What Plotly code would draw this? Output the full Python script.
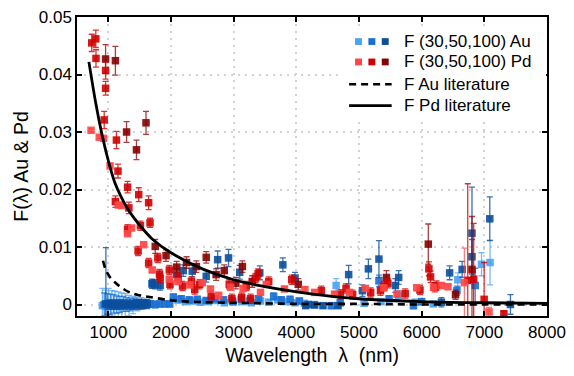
import plotly.graph_objects as go

# ---------------- data ----------------
au30_x = [905, 955, 1005, 1055, 1105, 1160, 1215, 1270, 1330, 1395, 1460, 1530, 2110, 2230, 2350, 2470, 2600, 2720, 2850, 2990, 3130, 3280, 3430, 3560, 3700, 3830, 3980, 4130, 4280, 4635, 5082, 5350, 5633, 5900, 6184, 6577, 6955, 7091]
au30_y = [-0.0002, -0.0003, -0.0002, -0.0003, -0.0002, -0.0003, -0.0002, -0.0001, -0.0002, -0.0001, 0.0001, 0.0002, 0.0008, 0.0005, 0.0006, 0.0004, 0.0005, 0.0007, 0.0003, 0.0004, 0.0005, 0.0003, 0.0006, 0.0004, 0.0008, 0.0005, 0.0003, 0.0002, 0.0000, 0.0033, 0.0002, 0.0005, 0.0016, 0.0004, 0.0001, 0.0043, 0.0070, 0.0073]
au30_e = [0.0030, 0.0028, 0.0030, 0.0027, 0.0025, 0.0025, 0.0022, 0.0020, 0.0018, 0.0015, 0.0012, 0.0010, 0.0005, 0.0004, 0.0004, 0.0004, 0.0004, 0.0004, 0.0004, 0.0004, 0.0004, 0.0004, 0.0004, 0.0004, 0.0004, 0.0004, 0.0004, 0.0004, 0.0004, 0.0012, 0.0004, 0.0004, 0.0008, 0.0004, 0.0004, 0.0012, 0.0020, 0.0039]

au50_x = [935, 985, 1035, 1085, 1135, 1185, 1240, 1295, 1350, 1410, 1470, 1530, 1600, 1670, 1700, 1745, 1820, 1900, 1980, 2037, 2163, 2290, 2420, 2560, 2700, 2840, 2980, 3120, 3260, 3400, 3638, 3760, 3900, 4050, 4556, 4700, 5318, 5480, 5869, 6000, 6562, 6855]
au50_y = [0.0000, 0.0001, 0.0000, 0.0001, 0.0000, 0.0000, 0.0001, 0.0000, 0.0000, 0.0001, 0.0000, 0.0000, 0.0001, 0.0001, 0.0036, 0.0000, 0.0001, 0.0001, 0.0001, 0.0013, 0.0010, 0.0008, 0.0009, 0.0007, 0.0010, 0.0008, 0.0006, 0.0009, 0.0007, 0.0010, 0.0014, 0.0008, 0.0009, 0.0006, -0.0002, 0.0003, 0.0041, 0.0010, -0.0002, 0.0005, 0.0024, 0.0033]
au50_e = [0.0020, 0.0018, 0.0018, 0.0016, 0.0015, 0.0014, 0.0013, 0.0012, 0.0011, 0.0010, 0.0009, 0.0008, 0.0007, 0.0006, 0.0007, 0.0006, 0.0005, 0.0005, 0.0005, 0.0005, 0.0005, 0.0005, 0.0005, 0.0005, 0.0005, 0.0005, 0.0005, 0.0005, 0.0005, 0.0005, 0.0006, 0.0005, 0.0005, 0.0005, 0.0005, 0.0005, 0.0010, 0.0005, 0.0005, 0.0005, 0.0008, 0.0030]

au100_x = [961, 1010, 1060, 1110, 1160, 1210, 1260, 1320, 1380, 1440, 1500, 1560, 1620, 1700, 1748, 1827, 2090, 2195, 2340, 2562, 2745, 2918, 3097, 3417, 3785, 3979, 4150, 4189, 4294, 4425, 4666, 4835, 5055, 5150, 5318, 5580, 5633, 6315, 6446, 6646, 6803, 6803, 7087, 7417]
au100_y = [0.0001, 0.0000, 0.0000, 0.0000, 0.0000, 0.0000, 0.0000, 0.0000, 0.0000, 0.0001, 0.0001, 0.0001, 0.0001, 0.0036, 0.0035, 0.0033, 0.0052, 0.0059, 0.0058, 0.0049, 0.0078, 0.0081, 0.0056, 0.0055, 0.0069, 0.0046, -0.0002, 0.0000, -0.0001, -0.0002, -0.0002, 0.0052, 0.0024, 0.0062, 0.0079, 0.0033, 0.0047, 0.0004, 0.0055, 0.0061, 0.0124, 0.0083, 0.0149, 0.0000]
au100_e = [0.0098, 0.0008, 0.0008, 0.0008, 0.0008, 0.0008, 0.0008, 0.0008, 0.0008, 0.0008, 0.0008, 0.0008, 0.0008, 0.0008, 0.0008, 0.0008, 0.0010, 0.0010, 0.0010, 0.0010, 0.0015, 0.0015, 0.0012, 0.0012, 0.0012, 0.0010, 0.0004, 0.0004, 0.0004, 0.0004, 0.0004, 0.0016, 0.0010, 0.0017, 0.0032, 0.0012, 0.0012, 0.0008, 0.0012, 0.0014, 0.0080, 0.0030, 0.0038, 0.0017]

pd30_x = [724, 855, 924, 1028, 1160, 1213, 1307, 1370, 1564, 1700, 1972, 2110, 2300, 2500, 2630, 2760, 2950, 3150, 3428, 3520, 3810, 4137, 4294, 4609, 4846, 5100, 5397, 5606, 5921, 6190, 6315, 6420, 6682, 7075]
pd30_y = [0.0303, 0.0291, 0.0289, 0.0241, 0.0173, 0.0172, 0.0123, 0.0133, 0.0104, 0.0060, 0.0044, 0.0040, 0.0034, 0.0038, 0.0027, 0.0016, 0.0030, 0.0028, 0.0021, 0.0035, 0.0027, 0.0026, 0.0021, 0.0018, 0.0021, 0.0028, 0.0029, 0.0018, 0.0029, 0.0030, 0.0033, 0.0031, 0.0038, -0.0013]
pd30_e = [0.0003, 0.0003, 0.0003, 0.0003, 0.0003, 0.0003, 0.0003, 0.0003, 0.0003, 0.0004, 0.0004, 0.0004, 0.0004, 0.0004, 0.0004, 0.0004, 0.0004, 0.0004, 0.0004, 0.0004, 0.0004, 0.0004, 0.0004, 0.0004, 0.0004, 0.0004, 0.0004, 0.0004, 0.0004, 0.0004, 0.0005, 0.0005, 0.0060, 0.0008]

pd50_x = [735, 800, 803, 956, 956, 934, 1129, 1154, 1113, 1307, 1485, 1643, 1328, 1512, 1665, 1307, 1475, 1643, 1790, 1816, 1827, 1973, 1984, 2115, 2184, 2326, 2378, 2457, 2641, 2929, 2971, 3129, 3202, 3271, 3350, 3391, 3559, 3926, 4399, 4704, 4793, 4898, 5186, 5343, 5397, 5460, 5737, 5973, 6115, 6142, 6210, 6236, 6735, 6830, 6997, 7312]
pd50_y = [0.0455, 0.0462, 0.0428, 0.0407, 0.0376, 0.0321, 0.0286, 0.0232, 0.0179, 0.0204, 0.0191, 0.0177, 0.0168, 0.0137, 0.0142, 0.0131, 0.0093, 0.0072, 0.0081, 0.0053, 0.0046, 0.0060, 0.0035, 0.0047, 0.0032, 0.0040, 0.0026, 0.0035, 0.0014, 0.0035, 0.0010, 0.0012, 0.0032, 0.0010, 0.0046, 0.0054, 0.0040, 0.0043, 0.0024, 0.0018, 0.0028, 0.0017, 0.0021, 0.0024, 0.0032, 0.0037, 0.0019, 0.0025, 0.0062, 0.0048, 0.0030, 0.0033, 0.0042, 0.0044, 0.0009, -0.0016]
pd50_e = [0.0015, 0.0015, 0.0015, 0.0015, 0.0012, 0.0015, 0.0015, 0.0012, 0.0010, 0.0010, 0.0012, 0.0012, 0.0010, 0.0008, 0.0008, 0.0008, 0.0008, 0.0008, 0.0008, 0.0008, 0.0008, 0.0008, 0.0008, 0.0008, 0.0008, 0.0008, 0.0008, 0.0008, 0.0008, 0.0008, 0.0008, 0.0008, 0.0008, 0.0008, 0.0008, 0.0008, 0.0008, 0.0008, 0.0008, 0.0008, 0.0008, 0.0008, 0.0008, 0.0008, 0.0008, 0.0008, 0.0008, 0.0008, 0.0012, 0.0010, 0.0008, 0.0008, 0.0168, 0.0097, 0.0064, 0.0004]

pd100_x = [956, 1113, 1291, 1449, 1601, 1748, 1921, 2090, 2247, 2405, 2562, 2720, 2850, 3035, 3139, 3296, 4031, 5438, 6106, 6540, 6803]
pd100_y = [0.0427, 0.0424, 0.0300, 0.0269, 0.0316, 0.0101, 0.0085, 0.0065, 0.0073, 0.0066, 0.0082, 0.0052, 0.0059, 0.0037, 0.0066, 0.0040, 0.0035, 0.0047, 0.0105, 0.0017, 0.0061]
pd100_e = [0.0025, 0.0025, 0.0018, 0.0017, 0.0020, 0.0012, 0.0010, 0.0010, 0.0010, 0.0010, 0.0010, 0.0010, 0.0010, 0.0010, 0.0010, 0.0010, 0.0010, 0.0012, 0.0035, 0.0008, 0.0092]

lit_pd_x = [690, 800, 900, 1000, 1100, 1200, 1300, 1400, 1500, 1700, 2000, 2500, 3000, 3500, 4000, 4500, 5000, 6000, 7000, 8000]
lit_pd_y = [0.0422, 0.0350, 0.0295, 0.0250, 0.0213, 0.0188, 0.0168, 0.0152, 0.0138, 0.0114, 0.0090, 0.0062, 0.0043, 0.0031, 0.0022, 0.0015, 0.0010, 0.0005, 0.0003, 0.0002]

lit_au_x = [915, 960, 1030, 1100, 1200, 1340, 1460, 1660, 2030, 2500, 3000, 3500, 4000, 5000, 6000, 7000, 8000]
lit_au_y = [0.0076, 0.0060, 0.0047, 0.0039, 0.0030, 0.0021, 0.0017, 0.0013, 0.0007, 0.0004, 0.0003, 0.0002, 0.0001, 0.0001, 0.0000, 0.0000, 0.0000]

# ---------------- styling ----------------
C_AU = ["#4aa3f3", "#1a6fd2", "#0b4e9b"]
C_PD = ["#ff4545", "#cf0000", "#860000"]
EB_AU = ["rgba(74,163,243,0.75)", "rgba(26,111,210,0.8)", "rgba(11,78,155,0.8)"]
EB_PD = ["rgba(255,69,69,0.7)", "rgba(207,0,0,0.8)", "rgba(134,0,0,0.75)"]
FONT = "Liberation Sans, Arial, sans-serif"

fig = go.Figure()

series = [
    (au30_x, au30_y, au30_e, C_AU[0], EB_AU[0]),
    (au50_x, au50_y, au50_e, C_AU[1], EB_AU[1]),
    (au100_x, au100_y, au100_e, C_AU[2], EB_AU[2]),
    (pd100_x, pd100_y, pd100_e, C_PD[2], EB_PD[2]),
    (pd50_x, pd50_y, pd50_e, C_PD[1], EB_PD[1]),
    (pd30_x, pd30_y, pd30_e, C_PD[0], EB_PD[0]),
]
for xs, ys, es, col, ecol in series:
    fig.add_trace(go.Scatter(
        x=xs, y=ys, mode="markers",
        marker=dict(symbol="square", size=7.5, color=col, opacity=0.9, line=dict(width=0)),
        error_y=dict(type="data", array=es, color=ecol, thickness=1.3, width=3),
        showlegend=False, cliponaxis=True))

fig.add_trace(go.Scatter(x=lit_au_x, y=lit_au_y, mode="lines",
                         line=dict(color="black", width=2.6, dash="7px,5px", shape="spline"),
                         showlegend=False))
fig.add_trace(go.Scatter(x=lit_pd_x, y=lit_pd_y, mode="lines",
                         line=dict(color="black", width=2.8, shape="spline"),
                         showlegend=False))

# ---------------- manual legend ----------------
L, T, W, H = 77, 8, 475, 308
def px(x):
    return (x - L) / W
def py(y):
    return (T + H - y) / H

shapes = [dict(type="rect", xref="paper", yref="paper", x0=px(344), x1=px(551), y0=py(114), y1=py(20),
               fillcolor="white", line=dict(width=0), layer="above")]
for i, c in enumerate(C_AU):
    cx = 361.5 + 13.5 * i
    shapes.append(dict(type="rect", xref="paper", yref="paper", x0=px(cx - 3.5), x1=px(cx + 3.5),
                       y0=py(33.3 + 3.5), y1=py(33.3 - 3.5), fillcolor=c, line=dict(width=0), layer="above"))
for i, c in enumerate(C_PD):
    cx = 361.5 + 13.5 * i
    shapes.append(dict(type="rect", xref="paper", yref="paper", x0=px(cx - 3.5), x1=px(cx + 3.5),
                       y0=py(54.3 + 3.5), y1=py(54.3 - 3.5), fillcolor=c, line=dict(width=0), layer="above"))
shapes.append(dict(type="line", xref="paper", yref="paper", x0=px(352), x1=px(395), y0=py(77.3), y1=py(77.3),
                   line=dict(color="black", width=2.6, dash="7px,5px"), layer="above"))
shapes.append(dict(type="line", xref="paper", yref="paper", x0=px(352), x1=px(395), y0=py(99.3), y1=py(99.3),
                   line=dict(color="black", width=2.8), layer="above"))

labels = ["F (30,50,100) Au", "F (30,50,100) Pd", "F Au literature", "F Pd literature"]
rows = [33.3, 54.3, 77.3, 99.3]
annotations = [dict(text=t, xref="paper", yref="paper", x=px(405), y=py(r), xanchor="left", yanchor="middle",
                    showarrow=False, font=dict(family=FONT, size=17, color="black"))
               for t, r in zip(labels, rows)]

grid = dict(showgrid=True, gridcolor="#d2d2d2", griddash="2px,5px", gridwidth=1.5, zeroline=False)
frame = dict(ticks="inside", ticklen=5, tickwidth=1.5, tickcolor="black",
             showline=True, linecolor="black", linewidth=1.5, mirror="ticks")

fig.update_layout(
    width=574, height=376,
    margin=dict(l=L, r=574 - L - W, t=T, b=376 - T - H),
    paper_bgcolor="white", plot_bgcolor="white",
    font=dict(family=FONT, size=17, color="black"),
    shapes=shapes, annotations=annotations, showlegend=False,
    xaxis=dict(range=[500, 8000], tickvals=[1000, 2000, 3000, 4000, 5000, 6000, 7000, 8000],
               title=dict(text="Wavelength  λ  (nm)", font=dict(size=19.5), standoff=7),
               tickfont=dict(size=17), **grid, **frame),
    yaxis=dict(range=[-0.002, 0.05], tickvals=[0, 0.01, 0.02, 0.03, 0.04, 0.05],
               ticktext=["0", "0.01", "0.02", "0.03", "0.04", "0.05"],
               title=dict(text="F(λ) Au & Pd", font=dict(size=19.5), standoff=5),
               tickfont=dict(size=17), **grid, **frame),
)

fig.write_html("out.html")
